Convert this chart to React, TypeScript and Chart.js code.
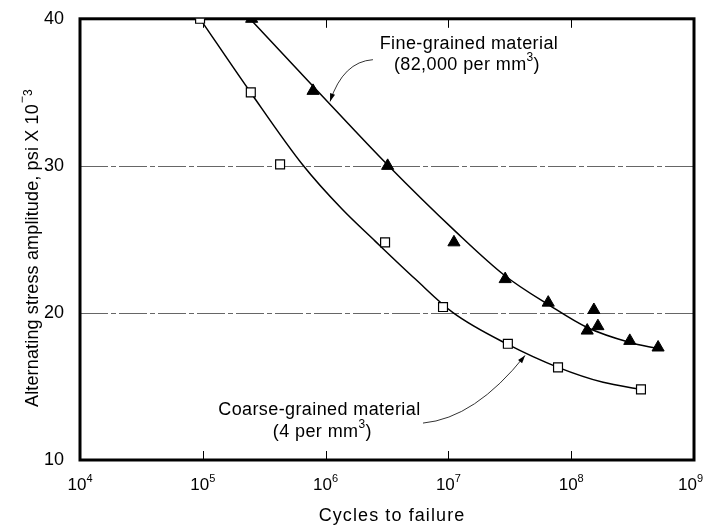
import React, { useEffect, useRef } from 'react';
import { Chart, registerables } from 'chart.js';

Chart.register(...registerables);

// ---- data ----
// Coarse-grained material (open squares)
const coarseCycles = [9.5e4, 2.46e5, 4.26e5, 3.05e6, 9.04e6, 3.05e7, 7.81e7, 3.7e8];
const coarseStress = [40, 35, 30.1, 24.8, 20.4, 17.9, 16.3, 14.8];
// Fine-grained material (filled triangles)
const fineCycles = [2.5e5, 7.9e5, 3.2e6, 1.11e7, 2.9e7, 6.5e7, 1.53e8, 1.65e8, 1.35e8, 3.0e8, 5.1e8];
const fineStress = [40, 35.1, 30, 24.8, 22.3, 20.7, 20.2, 19.1, 18.8, 18.1, 17.65];
// Hand-drawn fitted curves
const coarseFitCycles = [9.5e4, 2.42e5, 6.55e5, 1.36e6, 2.52e6, 5.35e6, 1.09e7, 3.05e7, 7.81e7, 1.82e8, 3.7e8];
const coarseFitStress = [40, 35.06, 30.04, 27.06, 24.9, 22.32, 20.02, 17.86, 16.3, 15.28, 14.81];
const fineFitCycles = [2.42e5, 8.67e5, 3.16e6, 1.13e7, 2.89e7, 6.71e7, 1.35e8, 3.01e8, 5.09e8];
const fineFitStress = [40, 35.06, 30.11, 25.58, 22.53, 20.5, 19.01, 17.99, 17.58];
// axes
const xTickValues = [1e4, 1e5, 1e6, 1e7, 1e8, 1e9];
const xTickExponents = ['4', '5', '6', '7', '8', '9'];
const yTickValues = [10, 20, 30, 40];
const gridStress = [20, 30];

const xTitle = 'Cycles to failure';
const yTitleMain = 'Alternating stress amplitude, psi X 10';
const fineLabel1 = 'Fine-grained material';
const fineLabel2 = '(82,000 per mm';
const coarseLabel1 = 'Coarse-grained material';
const coarseLabel2 = '(4 per mm';

// annotation anchors in data units (cycles, stress)
const annot = {
  fineText: { x: 1.47e7, y1: 37.97, y2: 36.55 },
  fineArrow: { from: [2.43e6, 37.22], ctrl: [1.39e6, 37.09], to: [1.087e6, 34.38] },
  coarseText: { x: 8.9e5, y1: 13.05, y2: 11.56 },
  coarseArrow: { from: [6.21e6, 12.51], ctrl: [1.65e7, 12.84], to: [4.21e7, 17.11] },
};

const FAM = '"Liberation Sans", Arial, Helvetica, sans-serif';
const font = (s: number) => `${s}px ${FAM}`;

type Part = { t: string; size: number; rise: number; gap?: number };

function measureParts(ctx: CanvasRenderingContext2D, parts: Part[]) {
  let w = 0;
  for (const p of parts) {
    ctx.font = font(p.size);
    w += ctx.measureText(p.t).width + (p.gap || 0);
  }
  return w;
}

function drawParts(ctx: CanvasRenderingContext2D, parts: Part[], anchorX: number, baseY: number, align: string = 'center', maxRight: number = Infinity) {
  const w = measureParts(ctx, parts);
  let x = align === 'center' ? anchorX - w / 2 : anchorX;
  if (x + w > maxRight) x = maxRight - w;
  ctx.textAlign = 'left';
  ctx.textBaseline = 'alphabetic';
  for (const p of parts) {
    ctx.font = font(p.size);
    x += p.gap || 0;
    ctx.fillText(p.t, x, baseY - p.rise);
    x += ctx.measureText(p.t).width;
  }
}

function drawArrow(ctx: CanvasRenderingContext2D, x: any, y: any, a: any) {
  const p0 = [x.getPixelForValue(a.from[0]), y.getPixelForValue(a.from[1])];
  const c = [x.getPixelForValue(a.ctrl[0]), y.getPixelForValue(a.ctrl[1])];
  const p2 = [x.getPixelForValue(a.to[0]), y.getPixelForValue(a.to[1])];
  ctx.strokeStyle = '#333';
  ctx.fillStyle = '#000';
  ctx.lineWidth = 1;
  ctx.beginPath();
  ctx.moveTo(p0[0], p0[1]);
  ctx.quadraticCurveTo(c[0], c[1], p2[0], p2[1]);
  ctx.stroke();
  const ang = Math.atan2(p2[1] - c[1], p2[0] - c[0]);
  const L = 8, W = 2.6;
  ctx.beginPath();
  ctx.moveTo(p2[0], p2[1]);
  ctx.lineTo(p2[0] - L * Math.cos(ang) + W * Math.sin(ang), p2[1] - L * Math.sin(ang) - W * Math.cos(ang));
  ctx.lineTo(p2[0] - L * Math.cos(ang) - W * Math.sin(ang), p2[1] - L * Math.sin(ang) + W * Math.cos(ang));
  ctx.closePath();
  ctx.fill();
}

const overlay = {
  id: 'overlay',
  beforeDatasetsDraw(chart: any) {
    const { ctx, chartArea: a, scales } = chart;
    const x = scales.x, y = scales.y;
    ctx.save();
    // horizontal reference lines
    ctx.strokeStyle = '#666';
    ctx.lineWidth = 1;
    ctx.setLineDash([28, 3, 5, 3]);
    for (const v of gridStress) {
      const py = Math.round(y.getPixelForValue(v)) + 0.5;
      ctx.beginPath();
      ctx.moveTo(a.left, py);
      ctx.lineTo(a.right, py);
      ctx.stroke();
    }
    ctx.setLineDash([]);
    // inner decade ticks, top and bottom
    ctx.strokeStyle = '#000';
    ctx.lineWidth = 1;
    for (const v of xTickValues.slice(1, -1)) {
      const px = Math.round(x.getPixelForValue(v)) + 0.5;
      ctx.beginPath();
      ctx.moveTo(px, a.bottom);
      ctx.lineTo(px, a.bottom - 9);
      ctx.moveTo(px, a.top);
      ctx.lineTo(px, a.top + 9);
      ctx.stroke();
    }
    // frame
    ctx.lineWidth = 3;
    ctx.strokeRect(a.left, a.top, a.right - a.left, a.bottom - a.top);
    ctx.restore();
  },
  afterDraw(chart: any) {
    const { ctx, chartArea: a, scales } = chart;
    const x = scales.x, y = scales.y;
    ctx.save();
    ctx.fillStyle = '#000';
    ctx.letterSpacing = '0px';
    // x tick labels 10^n
    xTickValues.forEach((v, i) => {
      const px = x.getPixelForValue(v);
      drawParts(ctx, [
        { t: '10', size: 17, rise: 0 },
        { t: xTickExponents[i], size: 11, rise: 8 },
      ], px, a.bottom + 30, 'center', chart.width - 1);
    });
    // x title
    ctx.letterSpacing = '1.1px';
    drawParts(ctx, [{ t: xTitle, size: 18, rise: 0 }], (a.left + a.right) / 2 + 5, 521);
    // y title rotated, reading upward from the bottom
    ctx.save();
    ctx.letterSpacing = '0.15px';
    ctx.translate(38, a.bottom - 53);
    ctx.rotate(-Math.PI / 2);
    drawParts(ctx, [
      { t: yTitleMain, size: 18, rise: 0 },
      { t: '\u2212', size: 12, rise: 12, gap: 1 },
      { t: '3', size: 12, rise: 6, gap: 0 },
    ], 0, 0, 'left');
    ctx.restore();
    // annotations
    ctx.letterSpacing = '0.4px';
    const ft = annot.fineText;
    const fx = x.getPixelForValue(ft.x);
    drawParts(ctx, [{ t: fineLabel1, size: 18, rise: 0 }], fx, y.getPixelForValue(ft.y1));
    drawParts(ctx, [
      { t: fineLabel2, size: 18, rise: 0 },
      { t: '3', size: 12, rise: 9 },
      { t: ')', size: 18, rise: 0 },
    ], fx - 2, y.getPixelForValue(ft.y2));
    const ct = annot.coarseText;
    const cx = x.getPixelForValue(ct.x);
    drawParts(ctx, [{ t: coarseLabel1, size: 18, rise: 0 }], cx, y.getPixelForValue(ct.y1));
    drawParts(ctx, [
      { t: coarseLabel2, size: 18, rise: 0 },
      { t: '3', size: 12, rise: 9 },
      { t: ')', size: 18, rise: 0 },
    ], cx + 3, y.getPixelForValue(ct.y2));
    ctx.letterSpacing = '0px';
    drawArrow(ctx, x, y, annot.fineArrow);
    drawArrow(ctx, x, y, annot.coarseArrow);
    ctx.restore();
  },
};

const pts = (xs: number[], ys: number[]) => xs.map((v, i) => ({ x: v, y: ys[i] }));

export default function App() {
  const ref = useRef<HTMLCanvasElement | null>(null);
  useEffect(() => {
    document.body.style.margin = '0';
    const canvas = ref.current;
    if (!canvas) return;
    const chart = new Chart(canvas, {
      type: 'scatter',
      data: {
        datasets: [
          {
            label: 'Coarse-grained material (points)',
            data: pts(coarseCycles, coarseStress),
            pointStyle: 'rect',
            pointRadius: 6.3,
            backgroundColor: '#fff',
            borderColor: '#000',
            borderWidth: 1.2,
            showLine: false,
          },
          {
            label: 'Fine-grained material (points)',
            data: pts(fineCycles, fineStress),
            pointStyle: 'triangle',
            pointRadius: 7,
            backgroundColor: '#000',
            borderColor: '#000',
            borderWidth: 1,
            showLine: false,
          },
          {
            label: 'Coarse-grained fit',
            data: pts(coarseFitCycles, coarseFitStress),
            showLine: true,
            pointRadius: 0,
            borderColor: '#000',
            borderWidth: 1.5,
            tension: 0.4,
            cubicInterpolationMode: 'monotone',
          },
          {
            label: 'Fine-grained fit',
            data: pts(fineFitCycles, fineFitStress),
            showLine: true,
            pointRadius: 0,
            borderColor: '#000',
            borderWidth: 1.5,
            tension: 0.4,
            cubicInterpolationMode: 'monotone',
          },
        ],
      } as any,
      options: {
        animation: false,
        responsive: true,
        maintainAspectRatio: false,
        devicePixelRatio: 1,
        events: [],
        layout: { padding: { top: 17, right: 10, bottom: 65, left: 0 } },
        plugins: { legend: { display: false }, tooltip: { enabled: false } },
        scales: {
          x: { type: 'logarithmic', min: 1e4, max: 1e9, display: false },
          y: {
            type: 'linear',
            min: 10,
            max: 40,
            afterBuildTicks: (s: any) => {
              s.ticks = yTickValues.map((v) => ({ value: v }));
            },
            afterFit: (s: any) => {
              s.width = 80;
            },
            grid: { display: false },
            border: { display: false },
            ticks: { font: { size: 18, family: FAM }, color: '#000', padding: 8 },
          },
        },
      } as any,
      plugins: [overlay],
    });
    return () => chart.destroy();
  }, []);
  return (
    <div style={{ position: 'relative', width: 704, height: 525, background: '#fff' }}>
      <canvas ref={ref} />
    </div>
  );
}
